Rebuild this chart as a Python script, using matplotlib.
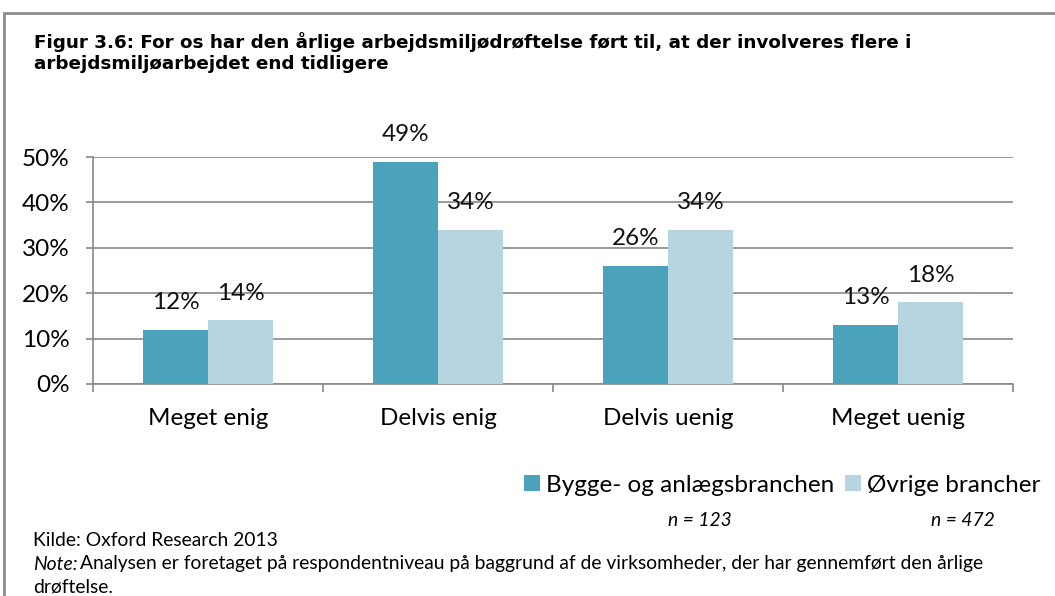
import matplotlib
matplotlib.use("Agg")
import matplotlib.pyplot as plt
from matplotlib.patches import Rectangle
import numpy as np

categories = ["Meget enig", "Delvis enig", "Delvis uenig", "Meget uenig"]
series_names = ["Bygge- og anlægsbranchen", "Øvrige brancher"]
bygge = [12, 49, 26, 13]
oevrige = [14, 34, 34, 18]
n_labels = ["n = 123", "n = 472"]
yticks = [0, 10, 20, 30, 40, 50]

c_dark = "#4AA3BA"
c_light = "#B7D5E1"
grid_c = "#888888"
FONT = "Lato"
FS = 17.5
FS_SMALL = 13.9

W, H = 1055, 596
fig = plt.figure(figsize=(W / 100, H / 100), dpi=100)

# outer frame
fig.patches.append(Rectangle((4 / W, -0.01), 1.2, 1 - 13 / H + 0.01, transform=fig.transFigure,
                             fill=False, edgecolor="#8c8c8c", linewidth=2))

fig.text(34 / W, 1 - 42 / H, "Figur 3.6: For os har den årlige arbejdsmiljødrøftelse ført til, at der involveres flere i",
         fontsize=13.2, fontweight="bold", family="DejaVu Sans", va="center", ha="left")
fig.text(34 / W, 1 - 64 / H, "arbejdsmiljøarbejdet end tidligere",
         fontsize=13.2, fontweight="bold", family="DejaVu Sans", va="center", ha="left")

left, right = 93, 1013
bottom_px, top_px = 384, 157
ax = fig.add_axes([left / W, 1 - bottom_px / H, (right - left) / W, (bottom_px - top_px) / H])

x = np.arange(len(categories))
bw = 65 / 230
b1 = ax.bar(x - bw / 2, bygge, bw, color=c_dark, zorder=3)
b2 = ax.bar(x + bw / 2, oevrige, bw, color=c_light, zorder=3)

for bars, vals in ((b1, bygge), (b2, oevrige)):
    for r, v in zip(bars, vals):
        ax.annotate(f"{v}%", (r.get_x() + r.get_width() / 2, v), xytext=(0, 12),
                    textcoords="offset points", ha="center", va="bottom",
                    fontsize=FS, family=FONT, color="#111111")

ax.set_xlim(-0.5, len(categories) - 0.5)
ax.set_ylim(0, 50)
ax.set_yticks(yticks)
ax.set_yticklabels([f"{t}%" for t in yticks], fontsize=FS, family=FONT)
ax.yaxis.grid(True, color=grid_c, linewidth=1.2, zorder=0)
ax.set_xticks(x)
ax.set_xticklabels(categories, fontsize=FS, family=FONT)
ax.tick_params(axis="x", length=0, pad=17)
ax.tick_params(axis="y", length=5, color=grid_c, width=1.2, pad=12)
ax.set_xticks(np.arange(-0.5, len(categories)), minor=True)
ax.tick_params(axis="x", which="minor", length=6, color=grid_c, width=1.2)
for s in ["top", "right"]:
    ax.spines[s].set_visible(False)
for s in ["left", "bottom"]:
    ax.spines[s].set_color(grid_c)
    ax.spines[s].set_linewidth(1.2)

# legend
leg = fig.legend([b1, b2], series_names, loc="center right", bbox_to_anchor=(1062 / W, 1 - 485 / H),
                 ncol=2, frameon=False, prop={"family": FONT, "size": FS},
                 handlelength=0.65, handleheight=0.65, handletextpad=0.25, columnspacing=0.45)

fig.text(700 / W, 1 - 521 / H, n_labels[0], fontsize=FS_SMALL, style="italic", family=FONT, ha="center", va="center")
fig.text(963 / W, 1 - 521 / H, n_labels[1], fontsize=FS_SMALL, style="italic", family=FONT, ha="center", va="center")

fig.text(33 / W, 1 - 540 / H, "Kilde: Oxford Research 2013", fontsize=FS_SMALL, family=FONT, ha="left", va="center")
fig.text(33 / W, 1 - 564 / H, "Note:", fontsize=FS_SMALL, family=FONT, style="italic", ha="left", va="center")
fig.text(80 / W, 1 - 564 / H,
         "Analysen er foretaget på respondentniveau på baggrund af de virksomheder, der har gennemført den årlige",
         fontsize=FS_SMALL, family=FONT, ha="left", va="center")
fig.text(33 / W, 1 - 587 / H, "drøftelse.", fontsize=FS_SMALL, family=FONT, ha="left", va="center")

fig.savefig("out.png", dpi=100)
